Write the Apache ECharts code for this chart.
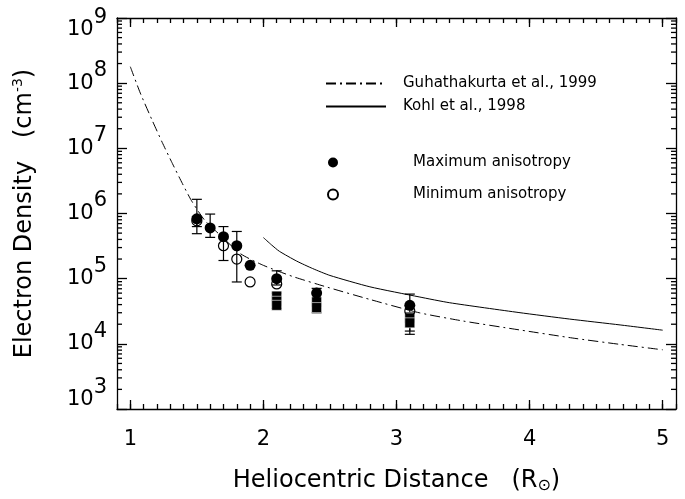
<!DOCTYPE html>
<html>
<head>
<meta charset="utf-8">
<script src="https://cdn.jsdelivr.net/npm/echarts@6/dist/echarts.min.js"></script>
<style>
  html, body { margin: 0; padding: 0; background: #fff; }
  #chart { width: 685px; height: 499px; }
</style>
</head>
<body>
<div id="chart"></div>
<script>
// Guhathakurta et al. 1999 curve
var guhaR = [1.0, 1.075, 1.165, 1.24, 1.316, 1.391, 1.459, 1.556, 1.65, 1.83, 2.0, 2.22, 2.48, 2.8, 3.17, 3.5, 3.92, 4.32, 4.68, 5.0];
var guhaN = [1.79e8, 7.05e7, 2.67e7, 1.23e7, 5.86e6, 2.89e6, 1.58e6, 8.0e5, 5.2e5, 2.4e5, 1.6e5, 1.08e5, 7.4e4, 4.8e4, 3.0e4, 2.24e4, 1.64e4, 1.23e4, 9.8e3, 8.1e3];

// Kohl et al. 1998 curve
var kohlR = [2.0, 2.06, 2.12, 2.25, 2.37, 2.5, 2.8, 3.17, 3.4, 3.92, 4.3, 4.68, 5.0];
var kohlN = [4.27e5, 3.31e5, 2.63e5, 1.86e5, 1.43e5, 1.12e5, 7.5e4, 5.25e4, 4.27e4, 3.02e4, 2.4e4, 1.95e4, 1.62e4];

// measurements
var maxR = [1.5, 1.6, 1.7, 1.8, 1.9, 2.1, 2.4, 3.1];
var maxN = [8.3e5, 6.0e5, 4.4e5, 3.2e5, 1.6e5, 1.0e5, 6.0e4, 3.9e4];

var minR = [1.5, 1.7, 1.8, 1.9, 2.1, 3.1];
var minN = [7.7e5, 3.2e5, 2.0e5, 8.9e4, 8.3e4, 3.2e4];

var sqR = [2.1, 2.1, 2.1, 2.4, 2.4, 3.1, 3.1];
var sqN = [5.4e4, 4.5e4, 3.9e4, 4.4e4, 3.6e4, 2.5e4, 2.1e4];

// error bars
var errR  = [1.5, 1.5, 1.6, 1.7, 1.8, 2.1, 2.1, 2.4, 3.1, 3.1];
var errLo = [6.3e5, 4.9e5, 4.3e5, 1.9e5, 8.9e4, 8.0e4, 3.5e4, 3.0e4, 1.57e4, 1.4e4];
var errHi = [1.65e6, 9.0e5, 9.8e5, 6.3e5, 5.3e5, 1.32e5, 6.0e4, 7.1e4, 5.8e4, 3.0e4];

// axis ticks
var xMajor = [1, 2, 3, 4, 5];
var yMantissa = [2, 3, 4, 5, 6, 7, 8, 9];
var yDecades = [1e3, 1e4, 1e5, 1e6, 1e7, 1e8];

var FONT = 'DejaVu Sans';
var TICK = { color: '#000', width: 1.3 };

function zip(a, b) {
  return a.map(function (v, i) { return [v, b[i]]; });
}

var yMinor = [];
yDecades.forEach(function (d) {
  yMantissa.forEach(function (m) { yMinor.push([1, m * d]); });
});

var chart = echarts.init(document.getElementById('chart'));

var supRich = {
  b:    { fontFamily: FONT, fontSize: 21, color: '#000' },
  s:    { fontFamily: FONT, fontSize: 21, color: '#000', padding: [0, 0, 25, 0] },
  bMin: { fontFamily: FONT, fontSize: 21, color: '#000', padding: [0, 0, 18, 0] },
  sMin: { fontFamily: FONT, fontSize: 21, color: '#000', padding: [0, 0, 43, 0] },
  bMax: { fontFamily: FONT, fontSize: 21, color: '#000', padding: [23, 0, 0, 0] },
  sMax: { fontFamily: FONT, fontSize: 21, color: '#000' }
};

var option = {
  backgroundColor: '#fff',
  animation: false,
  grid: { left: 117, right: 9, top: 18, bottom: 80 },
  legend: [{
    orient: 'vertical', left: 320, top: 71,
    itemWidth: 60, itemHeight: 14, itemGap: 8,
    data: ['Guhathakurta et al., 1999', 'Kohl et al., 1998'],
    itemStyle: { opacity: 0, color: 'transparent', borderColor: 'transparent', borderWidth: 0 },
    textStyle: { fontFamily: FONT, fontSize: 15, color: '#000', padding: [0, 0, 0, 12] }
  }, {
    orient: 'vertical', left: 322, top: 150,
    itemWidth: 10, itemHeight: 10, itemGap: 17,
    data: ['Maximum anisotropy', 'Minimum anisotropy'],
    textStyle: { fontFamily: FONT, fontSize: 15, color: '#000', padding: [0, 0, 0, 70] }
  }],
  xAxis: [{
    type: 'value', min: 0.9, max: 5.1, position: 'bottom',
    axisLine: { show: true, lineStyle: { color: '#000', width: 1.3 } },
    axisTick: { show: true, inside: true, length: 9, customValues: xMajor, lineStyle: TICK },
    axisLabel: { customValues: xMajor, margin: 20, fontFamily: FONT, fontSize: 21, color: '#000' },
    splitLine: { show: false },
    name: '{a|Heliocentric Distance   (R}{sub|\u2299}{a|)}',
    nameLocation: 'middle', nameGap: 59,
    nameTextStyle: {
      rich: {
        a: { fontFamily: FONT, fontSize: 24, color: '#000' },
        sub: { fontFamily: FONT, fontSize: 16, color: '#000', padding: [10, 0, 0, 0] }
      }
    }
  }, {
    type: 'value', min: 0.9, max: 5.1, interval: 0.1, position: 'bottom',
    axisLine: { show: false },
    axisTick: { show: true, inside: true, length: 5, lineStyle: TICK },
    axisLabel: { show: false }, splitLine: { show: false }
  }, {
    type: 'value', min: 0.9, max: 5.1, position: 'top',
    axisLine: { show: true, lineStyle: { color: '#000', width: 1.3 } },
    axisTick: { show: true, inside: true, length: 9, customValues: xMajor, lineStyle: TICK },
    axisLabel: { show: false }, splitLine: { show: false }
  }, {
    type: 'value', min: 0.9, max: 5.1, interval: 0.1, position: 'top',
    axisLine: { show: false },
    axisTick: { show: true, inside: true, length: 5, lineStyle: TICK },
    axisLabel: { show: false }, splitLine: { show: false }
  }],
  yAxis: [{
    type: 'log', logBase: 10, min: 1e3, max: 1e9, interval: 1, position: 'left',
    axisLine: { show: true, lineStyle: { color: '#000', width: 1.3 } },
    axisTick: { show: true, inside: true, length: 10, lineStyle: TICK },
    axisLabel: {
      margin: 10,
      formatter: function (v) {
        var e = Math.round(Math.log10(v));
        if (e === 3) return '{bMin|10}{sMin|' + e + '}';
        if (e === 9) return '{bMax|10}{sMax|' + e + '}';
        return '{b|10}{s|' + e + '}';
      },
      rich: supRich
    },
    splitLine: { show: false },
    minorTick: { show: false },
    name: '{a|Electron Density   (cm}{sup|-3}{a|)}',
    nameLocation: 'middle', nameRotate: 90, nameGap: 79,
    nameTextStyle: {
      rich: {
        a: { fontFamily: FONT, fontSize: 24, color: '#000' },
        sup: { fontFamily: FONT, fontSize: 14, color: '#000', padding: [0, 0, 13, 0] }
      }
    }
  }, {
    type: 'log', logBase: 10, min: 1e3, max: 1e9, interval: 1, position: 'right',
    axisLine: { show: true, lineStyle: { color: '#000', width: 1.3 } },
    axisTick: { show: true, inside: true, length: 10, lineStyle: TICK },
    axisLabel: { show: false }, splitLine: { show: false }
  }],
  series: [{
    name: 'log minor ticks',
    type: 'custom',
    silent: true,
    z: 10,
    data: yMinor,
    encode: { x: 0, y: 1 },
    renderItem: function (params, api) {
      var y = api.coord([1, api.value(1)])[1];
      var xl = api.coord([0.9, api.value(1)])[0];
      var xr = api.coord([5.1, api.value(1)])[0];
      var st = { stroke: '#000', lineWidth: 1.3 };
      return {
        type: 'group',
        children: [
          { type: 'line', shape: { x1: xl, y1: y, x2: xl + 5, y2: y }, style: st },
          { type: 'line', shape: { x1: xr - 5, y1: y, x2: xr, y2: y }, style: st }
        ]
      };
    }
  }, {
    name: 'Guhathakurta et al., 1999',
    type: 'line',
    data: zip(guhaR, guhaN),
    symbol: 'none',
    smooth: 0.2,
    lineStyle: { color: '#000', width: 1, type: [10, 4, 2, 4] },
    itemStyle: { color: '#000' }
  }, {
    name: 'Kohl et al., 1998',
    type: 'line',
    data: zip(kohlR, kohlN),
    symbol: 'none',
    smooth: 0.2,
    lineStyle: { color: '#000', width: 1, type: 'solid' },
    itemStyle: { color: '#000' }
  }, {
    name: 'error bars',
    type: 'custom',
    data: errR.map(function (r, i) { return [r, errLo[i], errHi[i]]; }),
    encode: { x: 0, y: [1, 2] },
    renderItem: function (params, api) {
      var lo = api.coord([api.value(0), api.value(1)]);
      var hi = api.coord([api.value(0), api.value(2)]);
      var st = { stroke: '#000', lineWidth: 1.2 };
      return {
        type: 'group',
        children: [
          { type: 'line', shape: { x1: lo[0], y1: lo[1], x2: hi[0], y2: hi[1] }, style: st },
          { type: 'line', shape: { x1: lo[0] - 5, y1: lo[1], x2: lo[0] + 5, y2: lo[1] }, style: st },
          { type: 'line', shape: { x1: hi[0] - 5, y1: hi[1], x2: hi[0] + 5, y2: hi[1] }, style: st }
        ]
      };
    }
  }, {
    name: 'squares',
    type: 'scatter',
    data: zip(sqR, sqN),
    symbol: 'rect',
    symbolSize: 10,
    itemStyle: { color: '#000', borderColor: '#fff', borderWidth: 0.6, opacity: 1 }
  }, {
    name: 'Minimum anisotropy',
    type: 'scatter',
    data: zip(minR, minN),
    symbol: 'circle',
    symbolSize: 10,
    itemStyle: { color: 'rgba(255,255,255,0)', borderColor: '#000', borderWidth: 1.2, opacity: 1 }
  }, {
    name: 'Maximum anisotropy',
    type: 'scatter',
    data: zip(maxR, maxN),
    symbol: 'circle',
    symbolSize: 11,
    itemStyle: { color: '#000', opacity: 1 }
  }]
};

chart.setOption(option);
</script>
</body>
</html>
